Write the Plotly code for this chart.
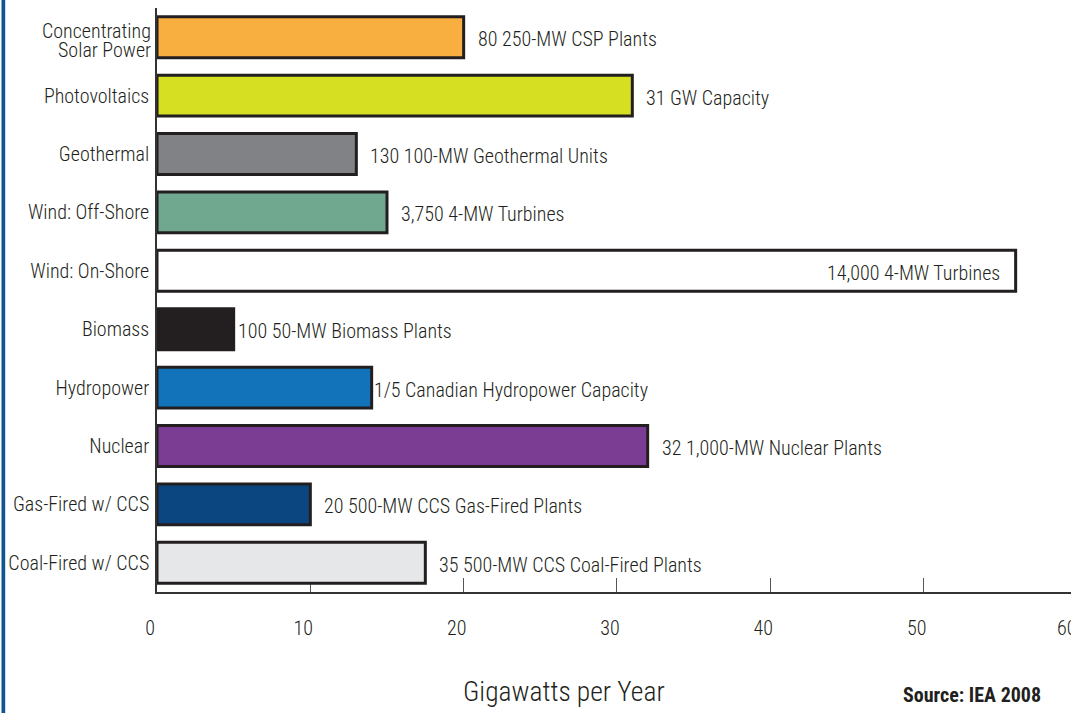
import plotly.graph_objects as go

# Generation technologies, top to bottom
categories = [
    "Concentrating Solar Power", "Photovoltaics", "Geothermal", "Wind: Off-Shore",
    "Wind: On-Shore", "Biomass", "Hydropower", "Nuclear",
    "Gas-Fired w/ CCS", "Coal-Fired w/ CCS",
]
# Capacity additions needed each year, GW
gigawatts = [20, 31, 13, 15, 56, 5, 14, 32, 10, 17.5]
bar_labels = [
    "80 250-MW CSP Plants", "31 GW Capacity", "130 100-MW Geothermal Units",
    "3,750 4-MW Turbines", "14,000 4-MW Turbines", "100 50-MW Biomass Plants",
    "1/5 Canadian Hydropower Capacity", "32 1,000-MW Nuclear Plants",
    "20 500-MW CCS Gas-Fired Plants", "35 500-MW CCS Coal-Fired Plants",
]
x_ticks = [0, 10, 20, 30, 40, 50, 60]
x_title = "Gigawatts per Year"
source_note = "Source: IEA 2008"

bar_colors = ["#f9ae40", "#d6df22", "#818285", "#6fa78f", "#ffffff",
              "#231f20", "#1273bb", "#7b3c94", "#0b4680", "#e6e7e8"]

FONT = "Roboto Condensed, DejaVu Sans Condensed, sans-serif"
INK = "#231f20"
W, H = 1071, 713
ML, MT, MB = 157, 8, 121
PW, PH = W - ML, H - MT - MB
PX_PER_GW = 15.333
x_max = PW / PX_PER_GW
TICK_SHIFT = -7


def px_x(px):
    return (px - ML) / PW


def px_y(py):
    return (H - MB - py) / PH


def font(size, weight=300):
    return dict(family=FONT, size=size, color=INK, weight=weight)


fig = go.Figure(go.Bar(
    x=gigawatts, y=categories, orientation="h", width=0.7,
    marker=dict(color=bar_colors, line=dict(color=INK, width=3)),
    hoverinfo="x+y",
))

# value captions beside (or inside) each bar
gap = {"Biomass": 2, "Hydropower": 0}
annotations = []
for cat, val, txt in zip(categories, gigawatts, bar_labels):
    inside = cat == "Wind: On-Shore"
    annotations.append(dict(
        x=val, y=cat, xref="x", yref="y", text=txt, showarrow=False,
        xanchor="right" if inside else "left",
        xshift=-14 if inside else gap.get(cat, 12), yshift=-2,
        font=font(20),
    ))

# two-line label for the first category
for line, py in (("Concentrating", 31.5), ("Solar Power", 50)):
    annotations.append(dict(
        x=px_x(153), y=px_y(py), xref="paper", yref="paper", text=line,
        showarrow=False, xanchor="right", yanchor="middle",
        font=font(20),
    ))

# last tick label, running off the right edge of the figure
annotations.append(dict(
    x=px_x(ML + x_ticks[-1] * PX_PER_GW - 10), y=px_y(628), xref="paper",
    yref="paper", text=str(x_ticks[-1]), showarrow=False,
    xanchor="center", yanchor="middle", font=font(20),
))
annotations.append(dict(
    x=px_x(564), y=px_y(691), xref="paper", yref="paper", text=x_title,
    showarrow=False, xanchor="center", yanchor="middle",
    font=font(27.5),
))
annotations.append(dict(
    x=px_x(972), y=px_y(695), xref="paper", yref="paper",
    text=source_note, showarrow=False,
    xanchor="center", yanchor="middle",
    font=font(20, 700),
))

tick_text = ["" if c == "Concentrating Solar Power" else c for c in categories]

fig.update_layout(
    template="none",
    width=W, height=H,
    margin=dict(l=ML, r=0, t=MT, b=MB, pad=0),
    paper_bgcolor="white", plot_bgcolor="white",
    showlegend=False,
    annotations=annotations,
    bargap=0.3,
    xaxis=dict(
        range=[0, x_max], tickvals=x_ticks, ticks="inside", ticklen=14,
        tickwidth=1, tickcolor="#555555", showgrid=False, zeroline=False,
        showline=True, linecolor="#333333", linewidth=1.5,
        tickfont=font(20), automargin=False,
        ticklabelstandoff=17, ticklabelshift=TICK_SHIFT, layer="below traces",
    ),
    yaxis=dict(
        range=[9.5, -0.5], tickmode="array", tickvals=categories,
        ticktext=tick_text, ticks="", showgrid=False, zeroline=False,
        showline=True, linecolor="#333333", linewidth=1.5,
        tickfont=font(20), automargin=False,
        ticklabelstandoff=2, layer="below traces",
    ),
    shapes=[dict(
        type="rect", xref="paper", yref="paper", xsizemode="pixel",
        ysizemode="pixel", xanchor=0, yanchor=0,
        x0=1.5 - ML, x1=5.2 - ML, y0=-MB - 5, y1=PH + MT + 5,
        fillcolor="#0e5592", line=dict(width=0), layer="above",
    )],
)

fig.write_html("out.html")
